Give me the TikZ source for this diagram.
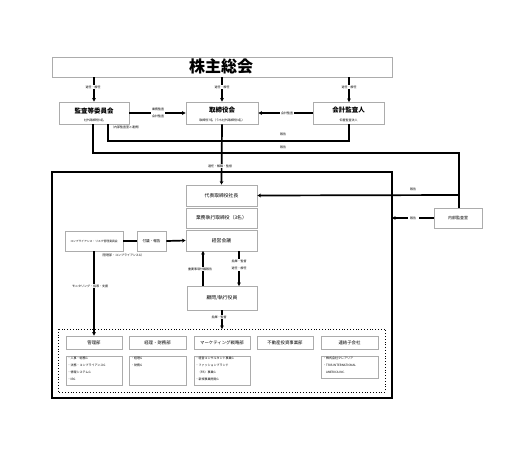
\documentclass[tikz,border=0pt]{standalone}
\usepackage{fontspec}
\setmainfont{Noto Sans CJK JP}
\usetikzlibrary{arrows.meta}
\newcommand{\fs}[1]{\fontsize{#1}{#1}\selectfont}
\newcommand{\fsb}[2]{\fontsize{#1}{#2}\selectfont}
\begin{document}
\begin{tikzpicture}[x=1pt,y=-1pt,
  box/.style={draw=gray!65, fill=white, line width=0.8pt, inner sep=0pt},
  conn/.style={line width=1.7pt, black},
  arr/.style={conn, -{Stealth[length=3.6pt,width=3.8pt]}},
  lbl/.style={fill=white, inner sep=0.9pt, font=\fs{3}},
  plain/.style={inner sep=0pt, font=\fs{3}},
  ttl/.style={inner sep=0pt, font=\bfseries\fs{6.5}},
  mid/.style={inner sep=0pt, font=\fs{4.8}},
  lst/.style={inner sep=0pt, anchor=north west, align=left, font=\fsb{3}{6.8}}
]
\useasboundingbox (0,0) rectangle (506,448);
\fill[white] (0,0) rectangle (506,448);

% big frame and dotted frame
\draw[line width=1.1pt] (52,172) rectangle (392,398);
\draw[dotted, line width=0.8pt] (58,329) rectangle (385,392);

% top boxes
\node[box, minimum width=340pt, minimum height=20pt] (kab) at (222,67) {};
\node[inner sep=0pt, font=\bfseries\fs{16}] (kabt) at (221,66) {株主総会};

\node[box, minimum width=70pt, minimum height=22pt] (kan) at (94,113) {};
\node[ttl] (kant) at (94,110.5) {監査等委員会};
\node[plain] (kans) at (94,120) {社外取締役3名};

\node[box, minimum width=72pt, minimum height=22pt] (tor) at (222,113) {};
\node[ttl] (tort) at (222,110.5) {取締役会};
\node[plain] (tors) at (222,120) {取締役7名（うち社外取締役3名）};

\node[box, minimum width=71pt, minimum height=22pt] (kai) at (348.5,113) {};
\node[ttl] (kait) at (348.5,110.5) {会計監査人};
\node[plain] (kais) at (348.5,120) {仰星監査法人};

\node[plain, anchor=west] (kann) at (111,127) {（内部監査室と連携）};

% internal audit
\node[box, minimum width=48pt, minimum height=20pt] (nai) at (458,218) {};
\node[inner sep=0pt, font=\fs{4}] (nait) at (458,218) {内部監査室};

% inner boxes
\node[box, minimum width=71pt, minimum height=21pt] (dai) at (221.5,195.5) {};
\node[mid] (dait) at (221.5,195.5) {代表取締役社長};
\node[box, minimum width=71pt, minimum height=20pt] (gyo) at (221.5,218) {};
\node[mid] (gyot) at (221.5,218) {業務執行取締役（3名）};
\node[box, minimum width=71pt, minimum height=21pt] (kei) at (221.5,240.5) {};
\node[mid] (keit) at (221.5,240.5) {経営会議};

\node[box, minimum width=58pt, minimum height=20pt] (com) at (94,241) {};
\node[inner sep=0pt, font=\fs{2.8}] (comt) at (94,241) {コンプライアンス・リスク管理委員会};
\node[box, minimum width=29pt, minimum height=20pt] (fug) at (151.5,241) {};
\node[inner sep=0pt, font=\fs{3.6}] (fugt) at (151.5,241) {付議・報告};
\node[plain] (comn) at (122,255.5) {（管理部・コンプライアンスG）};

\node[box, minimum width=70pt, minimum height=24pt] (kom) at (222,298) {};
\node[mid] (komt) at (222,298) {顧問/執行役員};

% departments
\node[box, minimum width=56pt, minimum height=13pt] (d1) at (94,342.5) {};
\node[inner sep=0pt, font=\fs{4.4}] (d1t) at (94,342.5) {管理部};
\node[box, minimum width=57pt, minimum height=13pt] (d2) at (157.5,342.5) {};
\node[inner sep=0pt, font=\fs{4.4}] (d2t) at (157.5,342.5) {経理・財務部};
\node[box, minimum width=56pt, minimum height=13pt] (d3) at (222,342.5) {};
\node[inner sep=0pt, font=\fs{4.4}] (d3t) at (222,342.5) {マーケティング戦略部};
\node[box, minimum width=56pt, minimum height=13pt] (d4) at (285,342.5) {};
\node[inner sep=0pt, font=\fs{4.4}] (d4t) at (285,342.5) {不動産投資事業部};
\node[box, minimum width=57pt, minimum height=13pt] (d5) at (349.5,342.5) {};
\node[inner sep=0pt, font=\fs{4.4}] (d5t) at (349.5,342.5) {連結子会社};

\node[box, minimum width=56pt, minimum height=29pt] (l1) at (94,370.5) {};
\node[lst] (l1t) at (67.5,357) {・人事・総務G\\・法務・コンプライアンスG\\・情報システムG\\・IRG};
\node[box, minimum width=57pt, minimum height=29pt] (l2) at (157.5,370.5) {};
\node[lst] (l2t) at (131,357) {・経理G\\・財務G};
\node[box, minimum width=56pt, minimum height=29pt] (l3) at (222,370.5) {};
\node[lst] (l3t) at (195.5,357) {・経営コンサルタント事業G\\・ファッションブランド\\\hspace*{2.2pt}（FB）事業G\\・新規事業開発G};
\node[box, minimum width=57pt, minimum height=22pt] (l5) at (349.5,367) {};
\node[lst] (l5t) at (323,357) {・株式会社クレアリア\\・TRIS INTERNATIONAL\\\hspace*{3pt}AMERICA INC.};

% connectors
\draw[arr] (kab.south -| kan) -- (kan.north);
\draw[arr] (kab.south -| tor) -- (tor.north);
\draw[arr] (kab.south -| 349,0) -- (349,102);
\draw[arr] (kan.east) -- (tor.west);
\draw[arr] (kai.west) -- (tor.east);
\draw[conn] (349,124) -- (349,141) -- (108,141) -- (108,124);
\draw[conn] (nai.north -| 459,0) -- (459,153) -- (93,153) -- (93,124);
\draw[arr] (459,195) -- (dai.east);
\draw[arr] (nai.west) -- (392,218);
\draw[arr] (tor.south) -- (dai.north);
\draw[conn] (com.east) -- (fug.west);
\draw[arr] (fug.east) -- (kei.west);
\draw[arr] (com.south) -- (d1.north);
\draw[arr] (203,286) -- (203,251);
\draw[arr] (239,251) -- (239,286);
\draw[arr] (kom.south) -- (222,329);

% labels
\node[lbl] (a1) at (93,87) {選任・解任};
\node[lbl] (a2) at (222,87) {選任・解任};
\node[lbl] (a3) at (349,87) {選任・解任};
\node[lbl, align=center, font=\fsb{3}{7}] (a4) at (158,113) {業務監査\\会計監査};
\node[lbl] (a5) at (287,113) {会計監査};
\node[plain] (a6) at (283,134) {報告};
\node[plain] (a7) at (283,147) {報告};
\node[plain] (a8) at (413,189) {報告};
\node[lbl, inner xsep=2.5pt] (a9) at (413,218) {報告};
\node[lbl] (a10) at (220,166) {選任・解職・監督};
\node[lbl] (a11) at (90,286) {モニタリング・指導・支援};
\node[lbl] (a12) at (200,269) {重要事項付議報告};
\node[lbl, align=center, font=\fsb{3}{7.5}] (a13) at (239,265) {指揮・監督\\選任・解任};
\node[lbl] (a14) at (219,317) {指揮・監督};
\end{tikzpicture}
\end{document}
